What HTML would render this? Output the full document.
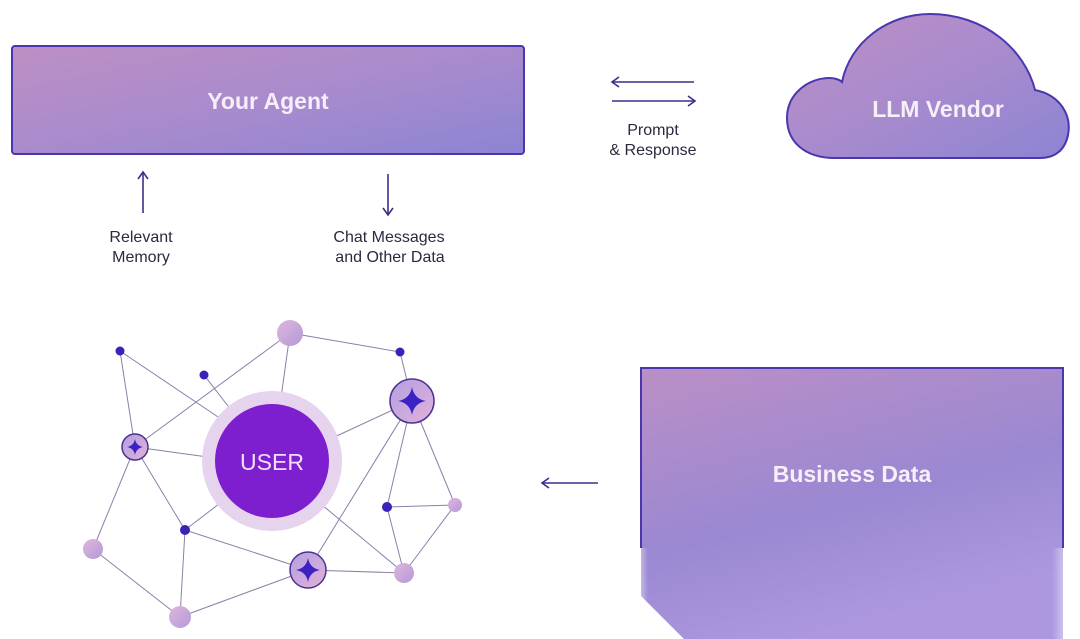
<!DOCTYPE html>
<html><head><meta charset="utf-8"><style>
html,body{margin:0;padding:0;background:#fff;width:1080px;height:639px;overflow:hidden}
svg{display:block}
text{font-family:"Liberation Sans",sans-serif}
</style></head><body>
<svg width="1080" height="639" viewBox="0 0 1080 639" xmlns="http://www.w3.org/2000/svg">
<defs>
<linearGradient id="g" x1="0" y1="0" x2="1" y2="1">
<stop offset="0" stop-color="#bd8fc4"/><stop offset="0.5" stop-color="#a98bcd"/><stop offset="1" stop-color="#8c84d4"/>
</linearGradient>
<linearGradient id="gb" x1="0" y1="0" x2="0.4" y2="1">
<stop offset="0" stop-color="#bb8fc6"/><stop offset="0.6" stop-color="#9a88d2"/><stop offset="1" stop-color="#ad98e0"/>
</linearGradient>
<linearGradient id="pk" x1="0" y1="0" x2="1" y2="1">
<stop offset="0" stop-color="#e0b6dc"/><stop offset="1" stop-color="#b29ad8"/>
</linearGradient>
<linearGradient id="st" x1="0" y1="0" x2="1" y2="1">
<stop offset="0" stop-color="#b3a0e2"/><stop offset="1" stop-color="#e1b1d8"/>
</linearGradient>
<linearGradient id="fadeL" x1="0" y1="0" x2="1" y2="0">
<stop offset="0" stop-color="#fff" stop-opacity="1"/><stop offset="1" stop-color="#fff" stop-opacity="0"/>
</linearGradient>
<linearGradient id="fadeR" x1="1" y1="0" x2="0" y2="0">
<stop offset="0" stop-color="#fff" stop-opacity="1"/><stop offset="1" stop-color="#fff" stop-opacity="0"/>
</linearGradient>
<symbol id="star" viewBox="-10 -10 20 20"><path d="M0,-10 Q1.5,-1.5 10,0 Q1.5,1.5 0,10 Q-1.5,1.5 -10,0 Q-1.5,-1.5 0,-10Z" fill="#3a22c4"/></symbol>
</defs>

<rect x="12" y="46" width="512" height="108" rx="3" fill="url(#g)" stroke="#4a36b0" stroke-width="2"/>
<text x="268" y="109" text-anchor="middle" font-size="23" font-weight="bold" fill="#f6eef8">Your Agent</text>

<g stroke="#3c2e8a" stroke-width="1.6" fill="none">
<line x1="143" y1="213" x2="143" y2="173"/><polyline points="138,179 143,172 148,179"/>
<line x1="388" y1="174" x2="388" y2="214"/><polyline points="383,208 388,215 393,208"/>
<line x1="613" y1="82" x2="694" y2="82"/><polyline points="619,77 612,82 619,87"/>
<line x1="612" y1="101" x2="694" y2="101"/><polyline points="688,96 695,101 688,106"/>
<line x1="543" y1="483" x2="598" y2="483"/><polyline points="549,478 542,483 549,488"/>
</g>
<g font-size="16" fill="#2a2a40" text-anchor="middle">
<text x="141" y="242">Relevant</text><text x="141" y="262">Memory</text>
<text x="389" y="242">Chat Messages</text><text x="390" y="262">and Other Data</text>
<text x="653" y="135">Prompt</text><text x="653" y="155">&amp; Response</text>
</g>

<path d="M835,158 C805,158 787,142 787,118 C787,94 808,78 830,78 C835,78 840,80 842,82 C850,42 888,14 930,14 C985,14 1025,50 1035,90 C1060,95 1072,115 1068,135 C1065,150 1055,158 1040,158 Z" fill="url(#g)" stroke="#4a36b0" stroke-width="2"/>
<text x="938" y="117" text-anchor="middle" font-size="23" font-weight="bold" fill="#f6eef8">LLM Vendor</text>

<polygon points="641,368 1063,368 1063,639 684,639 641,596" fill="url(#gb)"/>
<polyline points="641,548 641,368 1063,368 1063,548" fill="none" stroke="#4a36b0" stroke-width="2"/>
<rect x="1052" y="548" width="28" height="91" fill="url(#fadeR)"/>
<rect x="630" y="548" width="18" height="60" fill="url(#fadeL)"/>
<text x="852" y="482" text-anchor="middle" font-size="23" font-weight="bold" fill="#f6eef8">Business Data</text>

<g stroke="#8a80a8" stroke-width="1" fill="none">
<line x1="120" y1="351" x2="135" y2="447"/><line x1="120" y1="351" x2="230" y2="425"/>
<line x1="290" y1="333" x2="135" y2="447"/><line x1="290" y1="333" x2="280" y2="405"/>
<line x1="290" y1="333" x2="400" y2="352"/><line x1="204" y1="375" x2="235" y2="415"/>
<line x1="400" y1="352" x2="412" y2="401"/><line x1="412" y1="401" x2="328" y2="440"/>
<line x1="412" y1="401" x2="308" y2="570"/><line x1="412" y1="401" x2="387" y2="507"/>
<line x1="412" y1="401" x2="455" y2="505"/><line x1="135" y1="447" x2="215" y2="458"/>
<line x1="135" y1="447" x2="185" y2="530"/><line x1="135" y1="447" x2="93" y2="549"/>
<line x1="185" y1="530" x2="228" y2="497"/><line x1="185" y1="530" x2="308" y2="570"/>
<line x1="185" y1="530" x2="180" y2="617"/><line x1="93" y1="549" x2="180" y2="617"/>
<line x1="180" y1="617" x2="308" y2="570"/><line x1="308" y1="570" x2="404" y2="573"/>
<line x1="316" y1="500" x2="404" y2="573"/><line x1="387" y1="507" x2="455" y2="505"/>
<line x1="387" y1="507" x2="404" y2="573"/><line x1="455" y1="505" x2="404" y2="573"/>
</g>
<circle cx="272" cy="461" r="70" fill="#e6d3ee"/>
<circle cx="272" cy="461" r="57" fill="#7e1fcf"/>
<text x="272" y="470" text-anchor="middle" font-size="23" fill="#f3dff5">USER</text>
<g fill="#3a22b8">
<circle cx="120" cy="351" r="4.5"/><circle cx="204" cy="375" r="4.5"/><circle cx="400" cy="352" r="4.5"/>
<circle cx="185" cy="530" r="5"/><circle cx="387" cy="507" r="5"/>
</g>
<g fill="url(#pk)">
<circle cx="290" cy="333" r="13"/><circle cx="93" cy="549" r="10"/><circle cx="180" cy="617" r="11"/>
<circle cx="404" cy="573" r="10"/><circle cx="455" cy="505" r="7"/>
</g>
<g fill="url(#st)" stroke="#4a3290" stroke-width="1.5">
<circle cx="412" cy="401" r="22"/><circle cx="135" cy="447" r="13"/><circle cx="308" cy="570" r="18"/>
</g>
<use href="#star" x="398" y="387" width="28" height="28"/>
<use href="#star" x="127" y="439" width="16" height="16"/>
<use href="#star" x="296" y="558" width="24" height="24"/>
</svg>
</body></html>
